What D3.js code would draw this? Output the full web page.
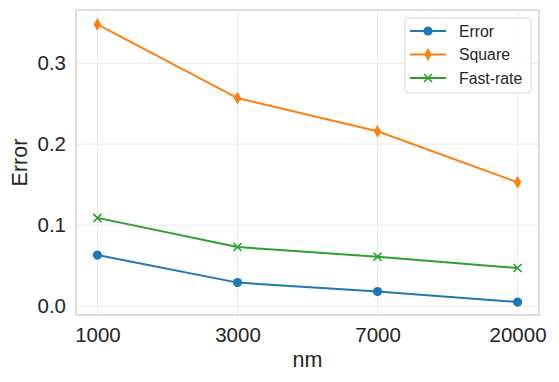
<!DOCTYPE html>
<html>
<head>
<meta charset="utf-8">
<script src="https://cdn.jsdelivr.net/npm/d3@7"></script>
<style>
  body { margin: 0; background: #fff; }
  svg { font-family: "Liberation Sans", Arial, sans-serif; }
</style>
</head>
<body>
<svg id="chart" width="559" height="382"></svg>
<script>
var categories = ['1000', '3000', '7000', '20000'];
var errorVals = [0.063, 0.029, 0.018, 0.005];
var squareVals = [0.348, 0.257, 0.216, 0.153];
var fastVals = [0.109, 0.073, 0.061, 0.047];
var yTicks = [0.0, 0.1, 0.2, 0.3];

var series = [
  { name: 'Error', values: errorVals, color: '#1f77b4', marker: 'circle' },
  { name: 'Square', values: squareVals, color: '#ff7f0e', marker: 'diamond' },
  { name: 'Fast-rate', values: fastVals, color: '#2ca02c', marker: 'x' }
];

var svg = d3.select('#chart');
var pLeft = 76, pRight = 539, pTop = 10, pBottom = 315;

var x = d3.scalePoint().domain(categories).range([pLeft, pRight]).padding(0.153);
var y = d3.scaleLinear().domain([-0.011, 0.3658]).range([pBottom, pTop]);

// grid
var grid = svg.append('g');
grid.selectAll('.gx').data(categories).enter().append('line')
  .attr('x1', function(d) { return x(d); }).attr('x2', function(d) { return x(d); })
  .attr('y1', pTop).attr('y2', pBottom)
  .attr('stroke', '#ebebeb').attr('stroke-width', 1);
grid.selectAll('.gy').data(yTicks).enter().append('line')
  .attr('x1', pLeft).attr('x2', pRight)
  .attr('y1', function(d) { return y(d); }).attr('y2', function(d) { return y(d); })
  .attr('stroke', '#ebebeb').attr('stroke-width', 1);

// axes (no tick marks, like seaborn whitegrid)
var xAxis = svg.append('g').attr('transform', 'translate(0,' + pBottom + ')')
  .call(d3.axisBottom(x).tickSize(0).tickPadding(12));
var yAxis = svg.append('g').attr('transform', 'translate(' + pLeft + ',0)')
  .call(d3.axisLeft(y).tickValues(yTicks).tickSize(0).tickPadding(10).tickFormat(d3.format('.1f')));
[xAxis, yAxis].forEach(function(a) {
  a.select('.domain').remove();
  a.selectAll('text').attr('font-size', 20.5).attr('fill', '#262626')
    .attr('font-family', '"Liberation Sans", Arial, sans-serif');
});
xAxis.selectAll('text').attr('dy', null).attr('y', 27);

// frame
svg.append('rect').attr('x', pLeft).attr('y', pTop)
  .attr('width', pRight - pLeft).attr('height', pBottom - pTop)
  .attr('fill', 'none').attr('stroke', '#cccccc').attr('stroke-width', 1.25);

var line = d3.line().x(function(d, i) { return x(categories[i]); }).y(function(d) { return y(d); });

function drawMarker(g, type, color) {
  if (type === 'circle') {
    g.append('circle').attr('r', 4.6).attr('fill', color);
  } else if (type === 'diamond') {
    g.append('path').attr('d', 'M0,-6.5L3.6,0L0,6.5L-3.6,0Z').attr('fill', color);
  } else {
    g.append('path').attr('d', 'M-4,-4L4,4M-4,4L4,-4').attr('stroke', color).attr('stroke-width', 1.6).attr('fill', 'none');
  }
}

series.forEach(function(s) {
  svg.append('path').datum(s.values).attr('d', line)
    .attr('fill', 'none').attr('stroke', s.color).attr('stroke-width', 2);
  s.values.forEach(function(v, i) {
    var g = svg.append('g').attr('transform', 'translate(' + x(categories[i]) + ',' + y(v) + ')');
    drawMarker(g, s.marker, s.color);
  });
});

// axis labels
svg.append('text').attr('x', (pLeft + pRight) / 2).attr('y', 367).attr('text-anchor', 'middle')
  .attr('font-size', 21.5).attr('fill', '#262626').text('nm');
svg.append('text').attr('transform', 'translate(27,' + ((pTop + pBottom) / 2) + ') rotate(-90)')
  .attr('text-anchor', 'middle').attr('font-size', 21.5).attr('fill', '#262626').text('Error');

// legend
var lg = svg.append('g').attr('transform', 'translate(405,18)');
lg.append('rect').attr('width', 126).attr('height', 75).attr('rx', 3)
  .attr('fill', '#fff').attr('fill-opacity', 0.8).attr('stroke', '#d6d6d6').attr('stroke-width', 1);
series.forEach(function(s, i) {
  var yy = 13 + i * 23.5;
  lg.append('line').attr('x1', 5).attr('x2', 41).attr('y1', yy).attr('y2', yy)
    .attr('stroke', s.color).attr('stroke-width', 2);
  var m = lg.append('g').attr('transform', 'translate(23,' + yy + ')');
  drawMarker(m, s.marker, s.color);
  lg.append('text').attr('x', 54).attr('y', yy).attr('dy', '0.36em')
    .attr('font-size', 15.8).attr('fill', '#262626').text(s.name);
});
</script>
</body>
</html>
